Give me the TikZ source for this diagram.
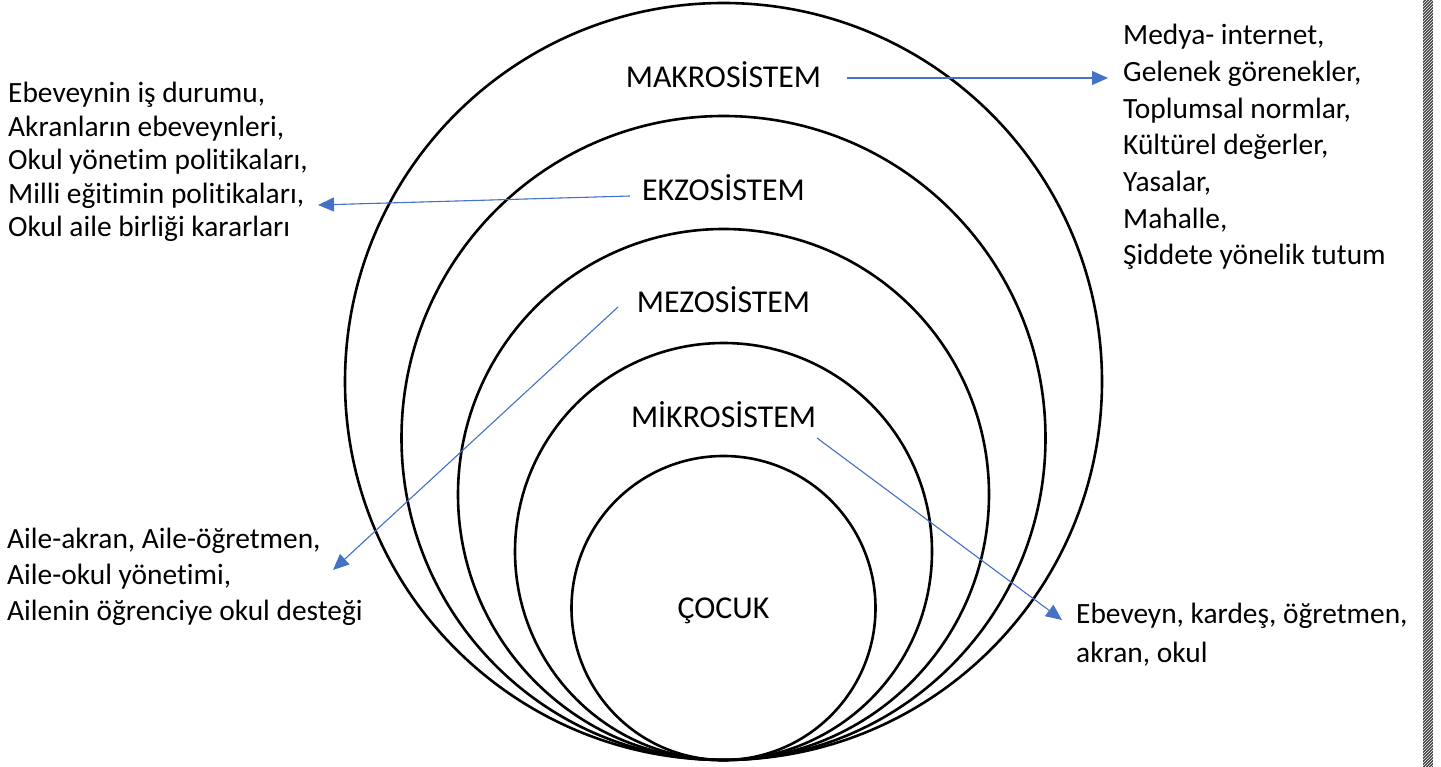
\documentclass[tikz,border=0pt]{standalone}
\usepackage{fontspec}
\setmainfont{Carlito}[Ligatures={NoCommon,NoContextual,NoRare}]
\usepackage{tikz}
\usetikzlibrary{arrows.meta, positioning, patterns}
\definecolor{arrowBlue}{HTML}{4472C4}

\begin{document}
\begin{tikzpicture}[
    x=1pt, y=-1pt,
    ring/.style={draw=black, line width=2.6pt},
    level/.style={font=\fontsize{31.8}{36}\selectfont, inner sep=0pt, anchor=base},
    list/.style={font=\fontsize{29.4}{#1}\selectfont, align=left, inner sep=0pt, anchor=base west},
    arrow/.style={-{Triangle[length=16pt, width=14pt]}, draw=arrowBlue, fill=arrowBlue, line width=1.1pt}
]
\useasboundingbox (0,0) rectangle (1441,767);

% Nested circles, all touching at the bottom
\foreach \r in {378.5, 322, 265.5, 208.5, 152}
    \draw[ring] (723.5,760-\r) circle[radius=\r];

% Level names
\node[level] (makro) at (723.5,88) {MAKROSİSTEM};
\node[level] (ekzo) at (723.5,201) {EKZOSİSTEM};
\node[level] (mezo) at (723.5,313) {MEZOSİSTEM};
\node[level] (mikro) at (723.5,428) {MİKROSİSTEM};
\node[level] (cocuk) at (723.5,618) {ÇOCUK};

% Examples for each level (placed at the baseline of their last line)
\node[list=36.7] (makroList) at (1123,265) {Medya- internet,\\Gelenek görenekler,\\Toplumsal normlar,\\Kültürel değerler,\\Yasalar,\\Mahalle,\\Şiddete yönelik tutum};
\node[list=33.5] (ekzoList) at (8,237) {Ebeveynin iş durumu,\\Akranların ebeveynleri,\\Okul yönetim politikaları,\\Milli eğitimin politikaları,\\Okul aile birliği kararları};
\node[list=36] (mezoList) at (7,620) {Aile-akran, Aile-öğretmen,\\Aile-okul yönetimi,\\Ailenin öğrenciye okul desteği};
\node[list=39] (mikroList) at (1076,662) {Ebeveyn, kardeş, öğretmen,\\akran, okul};

% Arrow ends
\coordinate (makroFrom) at (847,78);
\coordinate (makroTo) at (1108,78);
\coordinate (ekzoFrom) at (630,196);
\coordinate (ekzoTo) at (318,205);
\coordinate (mezoFrom) at (618,307);
\coordinate (mezoTo) at (333,570);
\coordinate (mikroFrom) at (817,438);
\coordinate (mikroTo) at (1062,620);

% Arrows
\draw[arrow] (makroFrom) -- (makroTo);
\draw[arrow] (ekzoFrom) -- (ekzoTo);
\draw[arrow] (mezoFrom) -- (mezoTo);
\draw[arrow] (mikroFrom) -- (mikroTo);

% Page border strip
\fill[black!75] (1423,0) rectangle (1433,767);
\fill[pattern=north east lines, pattern color=white] (1423,0) rectangle (1433,767);

\end{tikzpicture}
\end{document}
